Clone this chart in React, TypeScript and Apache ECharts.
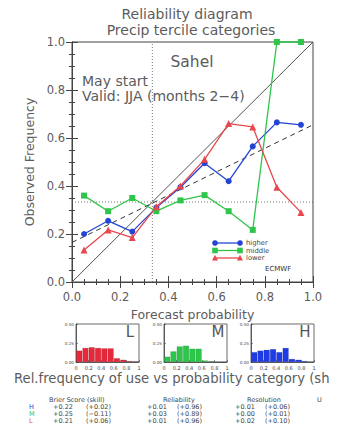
import React, { useEffect, useRef } from "react";
import * as echarts from "echarts";

// ---------- data ----------
const probBins = [0.05, 0.15, 0.25, 0.35, 0.45, 0.55, 0.65, 0.75, 0.85, 0.95];
const higherObs = [0.2, 0.255, 0.21, 0.31, 0.395, 0.495, 0.42, 0.565, 0.665, 0.655];
const middleObs = [0.36, 0.295, 0.35, 0.295, 0.34, 0.362, 0.295, 0.217, 1.0, 1.0];
const lowerObs = [0.133, 0.217, 0.185, 0.314, 0.4, 0.511, 0.66, 0.646, 0.395, 0.29];

const diagonalLine = [[0, 0], [1, 1]];
const regressionLine = [[0, 0.165], [1, 0.655]];
const climatology = 1 / 3;

const histBins = ["0.0-0.1", "0.1-0.2", "0.2-0.3", "0.3-0.4", "0.4-0.5", "0.5-0.6", "0.6-0.7", "0.7-0.8", "0.8-0.9", "0.9-1.0"];
const lowerUse = [0.15, 0.185, 0.195, 0.185, 0.18, 0.18, 0.05, 0.03, 0.012, 0.008];
const middleUse = [0.07, 0.14, 0.205, 0.215, 0.175, 0.175, 0.02, 0.01, 0.0, 0.0];
const higherUse = [0.13, 0.15, 0.16, 0.17, 0.13, 0.185, 0.04, 0.03, 0.013, 0.005];

const scoreHeaders = ["Brier Score (skill)", "Reliability", "Resolution", "U"];
const scoreRows = ["H", "M", "L"];
const brierScore = ["+0.22", "+0.25", "+0.21"];
const brierSkill = ["(+0.02)", "(\u22120.11)", "(+0.06)"];
const reliability = ["+0.01", "+0.03", "+0.01"];
const reliabilitySkill = ["(+0.96)", "(+0.89)", "(+0.96)"];
const resolution = ["+0.01", "+0.00", "+0.02"];
const resolutionSkill = ["(+0.06)", "(+0.01)", "(+0.10)"];

const legendNames = ["higher", "middle", "lower"];

// ---------- styles ----------
const FONT = "DejaVu Sans, Verdana, sans-serif";
const TXT = "#5c5c5c";
const BLUE = "#2444d4";
const GREEN = "#2ec54a";
const RED = "#e8474d";
const BLUE_BAR = "#1f3be6";
const GREEN_BAR = "#2cc64a";
const RED_BAR = "#e7283a";

const seriesColors = [BLUE, GREEN, RED];
const seriesSymbols = ["circle", "rect", "triangle"];

const MAIN = { left: 72, top: 42, width: 241, height: 240 };
const HIST_LEFTS = [76, 164, 251];
const HIST_TOP = 324;
const HIST_W = 63;
const HIST_H = 38;

export default function App() {
  const ref = useRef<HTMLDivElement>(null);

  useEffect(() => {
    if (!ref.current) return;
    const chart = echarts.init(ref.current, undefined, { renderer: "svg" });

    const pair = (xs: number[], ys: number[]) => xs.map((x, i) => [x, ys[i]]);

    const grids: any[] = [
      { ...MAIN, show: true, borderColor: "#444", borderWidth: 1, containLabel: false },
      ...HIST_LEFTS.map((l) => ({
        left: l, top: HIST_TOP, width: HIST_W, height: HIST_H,
        show: true, borderColor: "#444", borderWidth: 0.8, containLabel: false,
      })),
    ];

    const mainTick = {
      axisLine: { show: true, lineStyle: { color: "#444" } },
      axisTick: { show: true, inside: true, length: 6, lineStyle: { color: "#444" } },
      minorTick: { show: true, splitNumber: 4, length: 3, lineStyle: { color: "#444" } },
      splitLine: { show: false },
    };

    const xAxes: any[] = [
      {
        gridIndex: 0, type: "value", min: 0, max: 1, interval: 0.2, position: "bottom",
        ...mainTick,
        axisLabel: { color: TXT, fontSize: 11.5, fontFamily: FONT, margin: 9, formatter: (v: number) => v.toFixed(1) },
        name: "Forecast probability", nameLocation: "middle", nameGap: 24,
        nameTextStyle: { color: TXT, fontSize: 12.5, fontFamily: FONT },
      },
      {
        gridIndex: 0, type: "value", min: 0, max: 1, interval: 0.2, position: "top",
        ...mainTick, axisLabel: { show: false },
      },
    ];
    const yAxes: any[] = [
      {
        gridIndex: 0, type: "value", min: 0, max: 1, interval: 0.2, position: "left",
        ...mainTick,
        axisLabel: { color: TXT, fontSize: 11.5, fontFamily: FONT, margin: 7, formatter: (v: number) => v.toFixed(1) },
        name: "Observed Frequency", nameLocation: "middle", nameGap: 34, nameRotate: 90,
        nameTextStyle: { color: TXT, fontSize: 12.5, fontFamily: FONT },
      },
      {
        gridIndex: 0, type: "value", min: 0, max: 1, interval: 0.2, position: "right",
        ...mainTick, axisLabel: { show: false },
      },
    ];

    const histData = [lowerUse, middleUse, higherUse];
    const histColors = [RED_BAR, GREEN_BAR, BLUE_BAR];
    const histSeries: any[] = [];
    HIST_LEFTS.forEach((_, k) => {
      const g = k + 1;
      const catIdx = xAxes.length;
      xAxes.push({
        gridIndex: g, type: "category", data: histBins, boundaryGap: true,
        axisLine: { show: false }, axisTick: { show: false }, axisLabel: { show: false }, splitLine: { show: false },
      });
      xAxes.push({
        gridIndex: g, type: "value", min: 0, max: 1, interval: 0.2, position: "bottom",
        axisLine: { show: true, lineStyle: { color: "#444", width: 0.8 } },
        axisTick: { show: true, inside: true, length: 2, lineStyle: { color: "#444", width: 0.6 } },
        splitLine: { show: false },
        axisLabel: {
          color: "#444", fontSize: 5, fontFamily: FONT, margin: 3,
          formatter: (v: number) => (v === 0 ? "0" : v === 1 ? "1" : v.toFixed(1)),
        },
      });
      const yIdx = yAxes.length;
      yAxes.push({
        gridIndex: g, type: "value", min: 0, max: 0.5, interval: 0.25,
        axisLine: { show: true, lineStyle: { color: "#444", width: 0.8 } },
        axisTick: { show: true, inside: true, length: 2, lineStyle: { color: "#444", width: 0.6 } },
        splitLine: { show: false },
        axisLabel: { color: "#444", fontSize: 4.2, fontFamily: FONT, margin: 2, formatter: (v: number) => v.toFixed(2) },
      });
      histSeries.push({
        type: "bar", xAxisIndex: catIdx, yAxisIndex: yIdx, data: histData[k],
        barWidth: "96%", barGap: "0%",
        itemStyle: { color: histColors[k], borderColor: "rgba(0,0,0,0.25)", borderWidth: 0.4 },
        silent: true,
      });
    });

    const obsData = [higherObs, middleObs, lowerObs];
    const obsSeries = obsData.map((ys, i) => ({
      type: "line", name: legendNames[i], xAxisIndex: 0, yAxisIndex: 0,
      data: pair(probBins, ys),
      symbol: seriesSymbols[i], symbolSize: i === 2 ? 7 : 6,
      lineStyle: { color: seriesColors[i], width: 1.3 },
      itemStyle: { color: seriesColors[i] },
      clip: false, z: 5 + i,
    }));

    const refSeries: any[] = [
      {
        type: "line", xAxisIndex: 0, yAxisIndex: 0, data: diagonalLine, symbol: "none",
        lineStyle: { color: "#555", width: 1 }, z: 3,
      },
      {
        type: "line", xAxisIndex: 0, yAxisIndex: 0, data: regressionLine, symbol: "none",
        lineStyle: { color: "#333", width: 1, type: [5, 4] }, z: 3,
      },
      {
        type: "line", xAxisIndex: 0, yAxisIndex: 0, data: [[climatology, 0], [climatology, 1]], symbol: "none",
        lineStyle: { color: "#555", width: 0.8, type: [1, 2] }, z: 2,
      },
      {
        type: "line", xAxisIndex: 0, yAxisIndex: 0, data: [[0, climatology], [1, climatology]], symbol: "none",
        lineStyle: { color: "#555", width: 0.8, type: [1, 2] }, z: 2,
      },
    ];

    // ----- graphics: titles, annotations, legend, score table -----
    const graphics: any[] = [];
    const txt = (text: string, x: number, y: number, size: number, color = TXT, align = "left") => ({
      type: "text", x, y,
      style: { text, x: 0, y: 0, fill: color, fontSize: size, fontFamily: FONT, textAlign: align, textVerticalAlign: "middle" },
      z: 20,
    });
    graphics.push(txt("Reliability diagram", 187, 14, 14, TXT, "center"));
    graphics.push(txt("Precip tercile categories", 191, 29.5, 14, TXT, "center"));
    graphics.push(txt("Sahel", 192, 62, 15.5, TXT, "center"));
    graphics.push(txt("May start", 82, 81, 14));
    graphics.push(txt("Valid: JJA (months 2\u22124)", 82, 95.5, 14));

    // legend
    const legY = [243, 250.5, 258];
    legendNames.forEach((name, i) => {
      const y = legY[i];
      const c = seriesColors[i];
      graphics.push({ type: "line", shape: { x1: 215, y1: y, x2: 240, y2: y }, style: { stroke: c, lineWidth: 1.3 }, z: 20 });
      [215, 240].forEach((x) => {
        if (i === 0) graphics.push({ type: "circle", shape: { cx: x, cy: y, r: 2.8 }, style: { fill: c }, z: 21 });
        else if (i === 1) graphics.push({ type: "rect", shape: { x: x - 2.8, y: y - 2.8, width: 5.6, height: 5.6 }, style: { fill: c }, z: 21 });
        else graphics.push({ type: "polygon", shape: { points: [[x, y - 3.2], [x - 3, y + 2.4], [x + 3, y + 2.4]] }, style: { fill: c }, z: 21 });
      });
      graphics.push(txt(name, 246, y, 6.8, "#444"));
    });
    graphics.push(txt("ECMWF", 265, 268.5, 7, "#333"));

    // histogram letters
    const letters = ["L", "M", "H"];
    HIST_LEFTS.forEach((l, k) => {
      graphics.push(txt(letters[k], l + HIST_W - 9, 332, 15, "#555", "center"));
    });
    graphics.push(txt("Rel.frequency of use vs probability category (sh", 14, 378, 13.2, TXT));

    // score table
    const FS = 6.5;
    const colX = [49, 163, 247, 317];
    scoreHeaders.forEach((h, i) => graphics.push(txt(h, colX[i], 400, FS, "#444")));
    const rowY = [407, 414, 421];
    scoreRows.forEach((r, i) => {
      const y = rowY[i];
      graphics.push(txt(r, 29, y, FS, seriesColors[i]));
      graphics.push(txt(brierScore[i], 53, y, FS, "#444"));
      graphics.push(txt(brierSkill[i], 86, y, FS, "#444"));
      graphics.push(txt(reliability[i], 147, y, FS, "#444"));
      graphics.push(txt(reliabilitySkill[i], 177, y, FS, "#444"));
      graphics.push(txt(resolution[i], 235, y, FS, "#444"));
      graphics.push(txt(resolutionSkill[i], 265, y, FS, "#444"));
    });

    chart.setOption({
      animation: false,
      backgroundColor: "#ffffff",
      textStyle: { fontFamily: FONT },
      grid: grids,
      xAxis: xAxes,
      yAxis: yAxes,
      series: [...refSeries, ...obsSeries, ...histSeries],
      graphic: graphics,
    });

    return () => chart.dispose();
  }, []);

  return (
    <div
      ref={ref}
      style={{ position: "fixed", left: 0, top: 0, width: 347, height: 435, background: "#fff" }}
    />
  );
}
